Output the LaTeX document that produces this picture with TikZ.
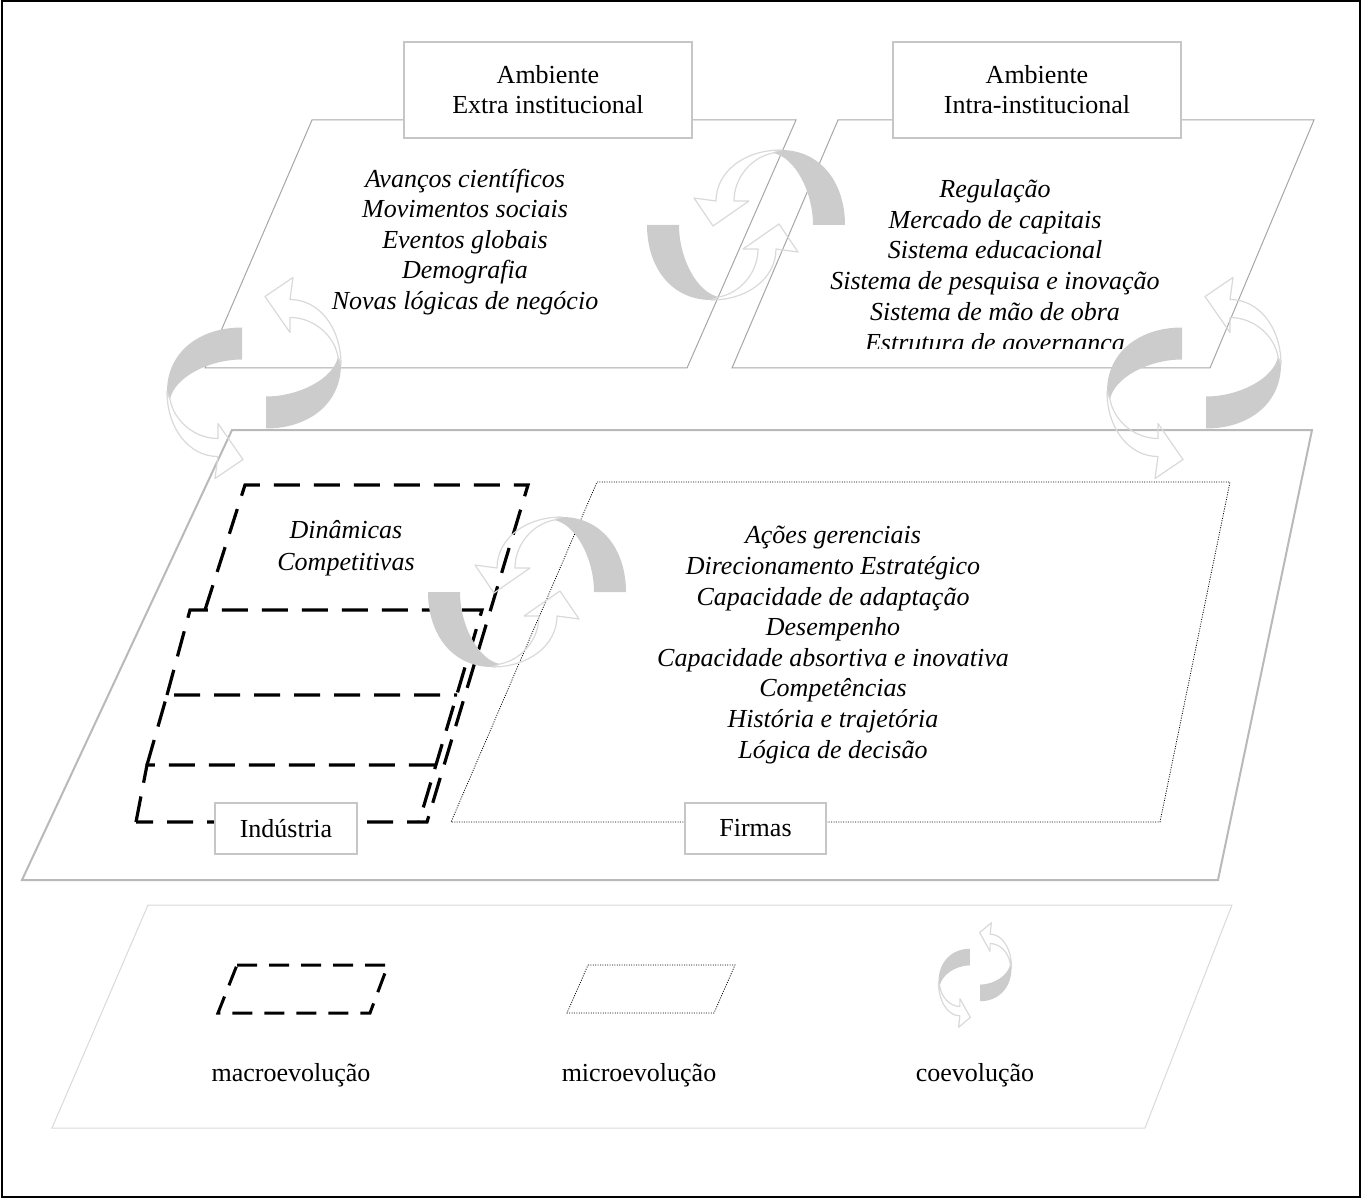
\documentclass[tikz,border=0pt]{standalone}
\usepackage{fontspec}
\setmainfont{Liberation Serif}

% one half-turn ribbon arrow, grey back face and outlined front face
\newcommand{\coevoarrow}{%
  \fill[ribbon] (0,-74) .. controls (-43,-74) and (-75,-49) .. (-75,-10)
    -- (-72,-2) .. controls (-68,-24) and (-33,-42) .. (0,-42) -- cycle;
  \draw[ribbon edge] (-75,-10) .. controls (-75,27) and (-53,55) .. (-24,55)
    -- (-27,77) -- (1,58) -- (-24,22) -- (-24,37)
    .. controls (-48,37) and (-68,19) .. (-72,-2) -- cycle;
}

\tikzset{
  outer line/.style={draw=black, line width=1pt},
  plane/.style={draw=gray!70, line width=0.5pt},
  main plane/.style={draw=gray!55, line width=1pt},
  legend plane/.style={draw=gray!30, line width=0.5pt},
  tag/.style={draw=gray!45, line width=1pt, fill=white, align=center, inner sep=0pt},
  factors/.style={font=\fontsize{13}{15.3}\selectfont\itshape, align=center},
  macro/.style={draw=black, line width=1.6pt, dash pattern=on 13pt off 7pt},
  macro small/.style={draw=black, line width=1.5pt, dash pattern=on 10pt off 6pt},
  micro/.style={draw=black, line width=0.4pt, dash pattern=on 0.5pt off 0.7pt},
  ribbon/.style={fill=gray!40},
  ribbon edge/.style={draw=gray!30, line width=0.6pt, line join=round},
  coevo v/.pic={
    \begin{scope}[shift={(-12,23.5)}] \coevoarrow \end{scope}
    \begin{scope}[shift={(12,-23.5)}, rotate=180] \coevoarrow \end{scope}
  },
  coevo h/.pic={
    \begin{scope}[shift={(-25,0)}, rotate=90] \coevoarrow \end{scope}
    \begin{scope}[shift={(25,0)}, rotate=-90] \coevoarrow \end{scope}
  },
}

\begin{document}
\begin{tikzpicture}[x=0.5pt, y=-0.5pt, font=\fontsize{13}{15}\selectfont]
\useasboundingbox (0,0) rectangle (1361,1198);
\draw[outer line] (1.5,1.5) rectangle (1359.5,1196.5);

% planes
\draw[plane] (312,120) -- (796,120) -- (687,368) -- (205,368) -- cycle;
\draw[plane] (838,120) -- (1314,120) -- (1210,368) -- (732,368) -- cycle;
\draw[main plane] (232,430) -- (1312,430) -- (1218,880) -- (22,880) -- cycle;
\draw[legend plane] (148,905) -- (1232,905) -- (1145,1128) -- (52,1128) -- cycle;

% industry layers
\draw[macro] (205,610) -- (245,485) -- (528,485) -- (427,822) -- (136,822);
\draw[macro] (167,695) -- (190,610) -- (482,610) -- (419,822);
\draw[macro] (147,765) -- (167,695) -- (457,695);
\draw[macro] (136,822) -- (147,765) -- (437,765);

% firms
\draw[micro] (597,482) -- (1230,482) -- (1160,822) -- (451,822) -- cycle;

% legend shapes
\draw[macro small] (237,965) -- (388,965) -- (370,1013) -- (218,1013) -- cycle;
\draw[micro] (588,965) -- (735,965) -- (714,1013) -- (567,1013) -- cycle;

% labels
\node[tag, minimum width=144pt, minimum height=48pt] (extra) at (548,90) {Ambiente\\Extra institucional};
\node[tag, minimum width=144pt, minimum height=48pt] (intra) at (1037,90) {Ambiente\\Intra-institucional};
\node[tag, minimum width=71pt, minimum height=25.5pt] (industria) at (286,828.5) {Indústria};
\node[tag, minimum width=70.5pt, minimum height=25.5pt] (firmas) at (755.5,828.5) {Firmas};

\node[factors] (extra list) at (465,242) {Avanços científicos\\Movimentos sociais\\Eventos globais\\Demografia\\Novas lógicas de negócio};
\begin{scope}
\clip (720,150) rectangle (1290,349);
\node[factors, font=\fontsize{13}{15.4}\selectfont\itshape] (intra list) at (995,268) {Regulação\\Mercado de capitais\\Sistema educacional\\Sistema de pesquisa e inovação\\Sistema de mão de obra\\Estrutura de governança};
\end{scope}
\node[factors, font=\fontsize{13}{16}\selectfont\itshape] (dinamicas) at (346,548) {Dinâmicas\\Competitivas};
\node[factors] (firm list) at (833,645) {Ações gerenciais\\Direcionamento Estratégico\\Capacidade de adaptação\\Desempenho\\Capacidade absortiva e inovativa\\Competências\\História e trajetória\\Lógica de decisão};

\node (macro label) at (291,1075) {macroevolução};
\node (micro label) at (639,1075) {microevolução};
\node (coevo label) at (975,1075) {coevolução};

% coevolution arrows
\pic at (254,378) {coevo v};
\pic at (1194,378) {coevo v};
\pic at (746,225) {coevo h};
\pic at (527,592) {coevo h};
\pic[xscale=0.42, yscale=0.52] at (975,975) {coevo v};
\end{tikzpicture}
\end{document}
